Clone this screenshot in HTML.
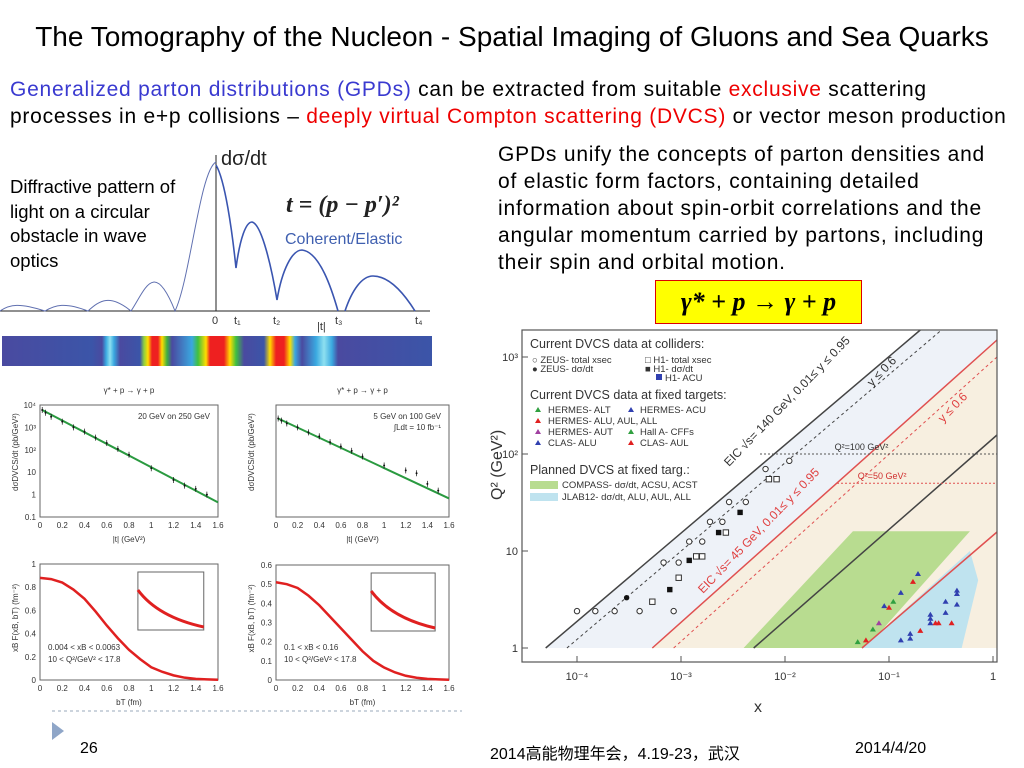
<!DOCTYPE html>
<html><head><meta charset="utf-8">
<style>
body{margin:0;width:1024px;height:768px;background:#fff;position:relative;overflow:hidden;font-family:"Liberation Sans","Noto Sans CJK SC",sans-serif}
.abs{position:absolute}
</style></head><body>
<div class="abs" style="left:0;top:21px;width:1024px;text-align:center;font-size:28px;color:#000">The Tomography of the Nucleon - Spatial Imaging of Gluons and Sea Quarks</div>
<div class="abs" style="left:10px;top:76px;font-size:21px;letter-spacing:0.75px;line-height:27px;color:#000;white-space:nowrap"><span style="color:#3a3ad0">Generalized parton distributions (GPDs)</span> can be extracted from suitable <span style="color:#e00">exclusive</span> scattering<br>processes in e+p collisions – <span style="color:#e00">deeply virtual Compton scattering (DVCS)</span> or vector meson production</div>
<div class="abs" style="left:498px;top:141px;font-size:21px;letter-spacing:0.8px;line-height:27px;color:#000;white-space:nowrap">GPDs unify the concepts of parton densities and<br>of elastic form factors, containing detailed<br>information about spin-orbit correlations and the<br>angular momentum carried by partons, including<br>their spin and orbital motion.</div>
<div class="abs" style="left:10px;top:175px;font-size:18.5px;line-height:24.5px;color:#000">Diffractive pattern of<br>light on a circular<br>obstacle in wave<br>optics</div>
<div class="abs" style="left:655px;top:280px;width:205px;height:42px;background:#ffff00;border:1px solid #d00;font-family:'Liberation Serif',serif;font-style:italic;font-weight:bold;font-size:26px;line-height:42px;text-align:center;color:#000">γ* + p → γ + p</div>
<div class="abs" style="left:2px;top:336px;width:430px;height:30px;background:linear-gradient(90deg,#4a4aa0 0px,#3b55a8 90px,#4a4aa0 100px,#3aa8e0 104px,#8ee0f0 108px,#3aa8e0 112px,#4a4aa0 118px,#3b55a8 138px,#8ed040 142px,#ffdd00 146px,#ee2020 150px,#ee2020 156px,#ffdd00 160px,#40b040 165px,#4a4aa0 170px,#3aa8e0 190px,#40c040 196px,#ffdd00 204px,#ee2020 208px,#ee2020 222px,#ffdd00 228px,#40c040 234px,#4a4aa0 242px,#3b55a8 262px,#ffdd00 268px,#ee2020 274px,#ee2020 282px,#ffdd00 288px,#3aa8e0 293px,#4a4aa0 300px,#3aa8e0 314px,#8ee0f0 322px,#3aa8e0 330px,#4a4aa0 336px,#3b55a8 430px)"></div>

<svg class="abs" style="left:0;top:0" width="1024" height="768">
<g fill="none">
<line x1="0" y1="311" x2="430" y2="311" stroke="#222" stroke-width="1"/>
<line x1="216" y1="311" x2="216" y2="155" stroke="#222"/>
<path d="M0,311 C10,304 20,303 45,311 C55,305 65,302 88,311 C100,300 110,294 131,311 C145,290 154,258 175,311 C190,280 200,170 216,162" stroke="#6070b0" stroke-width="1"/>
<path d="M216,165 C225,180 232,230 236,268 C240,238 246,222 252,222 C262,224 272,270 277,300 C282,270 292,250 302,250 C320,252 332,290 338,311 M345,311 C352,290 362,276 373,276 C390,276 405,295 415,311" stroke="#3a55b0" stroke-width="1.6"/>
<text x="221" y="165" font-size="20" fill="#222">dσ/dt</text>
<text x="286" y="212" font-size="24" font-family="Liberation Serif,serif" font-style="italic" font-weight="bold" fill="#222">t = (p − p′)²</text>
<text x="285" y="244" font-size="16" fill="#4060b0">Coherent/Elastic</text>
<text x="212" y="324" font-size="11" fill="#333">0</text>
<text x="234" y="324" font-size="11" fill="#333">t₁</text>
<text x="273" y="324" font-size="11" fill="#333">t₂</text>
<text x="317" y="330" font-size="11" fill="#333">|t|</text>
<text x="335" y="324" font-size="11" fill="#333">t₃</text>
<text x="415" y="324" font-size="11" fill="#333">t₄</text>
</g>
<g id="small" font-size="8" fill="#333"></g>
<g id="main"></g>
<line x1="52" y1="711" x2="462" y2="711" stroke="#9ab" stroke-dasharray="3,3"/>
<polygon points="52,722 52,740 64,731" fill="#8fa6c8"/>
</svg>
<div class="abs" style="left:80px;top:740px;font-size:16px;color:#000">26</div>
<div class="abs" style="left:490px;top:740px;font-size:16px;color:#000">2014高能物理年会，4.19-23，武汉</div>
<div class="abs" style="left:855px;top:740px;font-size:16px;color:#000">2014/4/20</div>

<script>
// ---- main DVCS chart data ----
const zeusTotX=[1e-4,1.5e-4,2.3e-4,4e-4,8.5e-4,6.8e-4,9.5e-4,1.2e-3,1.6e-3,1.9e-3,2.5e-3,2.9e-3,4.2e-3,6.5e-3,1.1e-2];
const zeusTotQ=[2.4,2.4,2.4,2.4,2.4,7.6,7.6,12.5,12.5,20,20,32,32,70,85];
const zeusDsX=[3e-4];
const zeusDsQ=[3.3];
const h1TotX=[5.3e-4,9.5e-4,1.4e-3,1.6e-3,2.7e-3,7e-3,8.3e-3];
const h1TotQ=[3,5.3,8.8,8.8,15.5,55,55];
const h1DsX=[7.8e-4,1.2e-3,2.3e-3,3.7e-3];
const h1DsQ=[4,8,15.5,25];
const fixedX=[0.05,0.06,0.07,0.08,0.09,0.1,0.11,0.13,0.13,0.16,0.16,0.17,0.19,0.2,0.25,0.25,0.25,0.28,0.3,0.35,0.35,0.4,0.45,0.45,0.45];
const fixedQ=[1.15,1.2,1.55,1.8,2.7,2.6,3,3.7,1.2,1.25,1.4,4.8,5.8,1.5,1.8,2,2.2,1.8,1.8,2.3,3,1.8,2.8,3.6,3.9];
const fixedKind=['g','r','g','m','b','r','g','b','b','b','b','r','b','r','b','b','b','r','r','b','b','r','b','b','b'];
const xTicks=['10⁻⁴','10⁻³','10⁻²','10⁻¹','1'];
const xTickVals=[1e-4,1e-3,1e-2,1e-1,1];
const yTickVals=[1,10,100,1000];
const yTickLabels=['1','10','10²','10³'];

const NS='http://www.w3.org/2000/svg';
function mk(tag,attrs,parent,txt){const e=document.createElementNS(NS,tag);for(const k in attrs)e.setAttribute(k,attrs[k]);if(txt!==undefined)e.textContent=txt;parent.appendChild(e);return e;}
const mg=document.getElementById('main');
const X=v=>577+104*(Math.log10(v)+4);
const Y=v=>648-97*Math.log10(v);
const PL=522,PR=997,PT=330,PB=662;
mk('polygon',{points:`${X(5e-5)},${Y(1)} ${X(0.2)},${PT} ${PR},${PT} ${PR},${Y(1)}`,fill:'#eef2f8'},mg);
mk('polygon',{points:`${X(5.3e-4)},${Y(1)} ${PR},${Y(1500)} ${PR},${Y(1)}`,fill:'#f7efe0'},mg);
mk('polygon',{points:`${X(4e-3)},${Y(1)} ${X(0.045)},${Y(16)} ${X(0.6)},${Y(16)} ${X(0.06)},${Y(1)}`,fill:'#b8dc90'},mg);
mk('polygon',{points:`${X(0.055)},${Y(1)} ${X(0.6)},${Y(10)} ${X(0.72)},${Y(5)} ${X(0.5)},${Y(1)}`,fill:'#bfe3ef'},mg);
mk('line',{x1:X(5e-5),y1:Y(1),x2:X(0.2),y2:PT,stroke:'#444','stroke-width':1.5},mg);
mk('line',{x1:X(8e-5),y1:Y(1),x2:X(0.32),y2:PT,stroke:'#444','stroke-dasharray':'3,3'},mg);
mk('line',{x1:X(5.3e-4),y1:Y(1),x2:PR,y2:340,stroke:'#e05050','stroke-width':1.5},mg);
mk('line',{x1:X(8.5e-4),y1:Y(1),x2:PR,y2:357,stroke:'#e05050','stroke-dasharray':'3,3'},mg);
mk('line',{x1:X(5e-3),y1:Y(1),x2:PR,y2:435,stroke:'#444','stroke-width':1.5},mg);
mk('line',{x1:X(0.055),y1:Y(1),x2:PR,y2:532,stroke:'#e05050','stroke-width':1.5},mg);
mk('line',{x1:760,y1:Y(100),x2:PR,y2:Y(100),stroke:'#555','stroke-dasharray':'2,2'},mg);
mk('line',{x1:837,y1:Y(50),x2:PR,y2:Y(50),stroke:'#e05050','stroke-dasharray':'2,2'},mg);
mk('text',{x:X(0.03),y:Y(100)-4,'font-size':9,fill:'#333'},mg,'Q²=100 GeV²');
mk('text',{x:X(0.05),y:Y(50)-4,'font-size':9,fill:'#d03030'},mg,'Q²=50 GeV²');
mk('text',{x:0,y:0,'font-size':12,fill:'#333',transform:'translate(729,467) rotate(-46)'},mg,'EIC √s= 140 GeV, 0.01≤ y ≤ 0.95');
mk('text',{x:0,y:0,'font-size':12,fill:'#333',transform:'translate(872,387) rotate(-46)'},mg,'y ≤ 0.6');
mk('text',{x:0,y:0,'font-size':12,fill:'#e04040',transform:'translate(703,594) rotate(-46)'},mg,'EIC √s= 45 GeV, 0.01≤ y ≤ 0.95');
mk('text',{x:0,y:0,'font-size':12,fill:'#e04040',transform:'translate(943,423) rotate(-46)'},mg,'y ≤ 0.6');
mk('rect',{x:PL,y:PT,width:PR-PL,height:PB-PT,fill:'none',stroke:'#555','stroke-width':1.2},mg);
xTickVals.forEach((v,i)=>{mk('line',{x1:X(v),y1:PB,x2:X(v),y2:PB-6,stroke:'#555'},mg);mk('text',{x:X(v),y:PB+18,'font-size':11,'text-anchor':'middle',fill:'#333'},mg,xTicks[i]);});
yTickVals.forEach((v,i)=>{mk('line',{x1:PL,y1:Y(v),x2:PL+6,y2:Y(v),stroke:'#555'},mg);mk('text',{x:PL-4,y:Y(v)+4,'font-size':11,'text-anchor':'end',fill:'#333'},mg,yTickLabels[i]);});
mk('text',{x:758,y:712,'font-size':16,'text-anchor':'middle',fill:'#333'},mg,'x');
mk('text',{x:0,y:0,'font-size':16,fill:'#333',transform:'translate(502,500) rotate(-90)'},mg,'Q² (GeV²)');
zeusTotX.forEach((v,i)=>{const c=mk('circle',{cx:X(v),cy:Y(zeusTotQ[i]),r:2.7,fill:'#fff',stroke:'#333'},mg);});
zeusDsX.forEach((v,i)=>{mk('circle',{cx:X(v),cy:Y(zeusDsQ[i]),r:2.7,fill:'#111'},mg);});
h1TotX.forEach((v,i)=>{mk('rect',{x:X(v)-2.7,y:Y(h1TotQ[i])-2.7,width:5.4,height:5.4,fill:'#fff',stroke:'#333'},mg);});
h1DsX.forEach((v,i)=>{mk('rect',{x:X(v)-2.7,y:Y(h1DsQ[i])-2.7,width:5.4,height:5.4,fill:'#111'},mg);});
const kc={g:'#30a040',r:'#e02020',m:'#a040a0',b:'#3040b0'};
fixedX.forEach((v,i)=>{const x=X(v),y=Y(fixedQ[i]);const t=mk('polygon',{points:`${x},${y-3} ${x-3},${y+2} ${x+3},${y+2}`,fill:kc[fixedKind[i]]},mg);});
const L=[['Current DVCS data at colliders:',530,348,12.5],['○ ZEUS- total xsec',532,363,9.5],['● ZEUS- dσ/dt',532,372,9.5],['□ H1- total xsec',645,363,9.5],['■ H1- dσ/dt',645,372,9.5],['H1- A_CU',665,381,9.5],
['Current DVCS data at fixed targets:',530,399,12.5],['HERMES- A_LT',548,413,9.5],['HERMES- A_LU, A_UL, A_LL',548,424,9.5],['HERMES- A_UT',548,435,9.5],['CLAS- A_LU',548,446,9.5],['HERMES- A_CU',640,413,9.5],['Hall A- CFFs',640,435,9.5],['CLAS- A_UL',640,446,9.5],
['Planned DVCS at fixed targ.:',530,474,12.5],['COMPASS- dσ/dt, A_CSU, A_CST',562,488,9.5],['JLAB12- dσ/dt, A_LU, A_UL, A_LL',562,500,9.5]];
L.forEach(a=>{const t=mk('text',{x:a[1],y:a[2],'font-size':a[3],fill:'#333'},mg,a[0].replace(/_/g,''));});
[[538,410,'#30a040'],[538,421,'#e02020'],[538,432,'#a040a0'],[538,443,'#3040b0'],[631,410,'#3040b0'],[631,432,'#30a040'],[631,443,'#e02020']].forEach(s=>mk('polygon',{points:`${s[0]},${s[1]-3} ${s[0]-3},${s[1]+2} ${s[0]+3},${s[1]+2}`,fill:s[2]},mg));
mk('rect',{x:656,y:374,width:6,height:6,fill:'#3040b0'},mg);
mk('rect',{x:530,y:481,width:28,height:8,fill:'#b8dc90'},mg);
mk('rect',{x:530,y:493,width:28,height:8,fill:'#bfe3ef'},mg);

// ---- small plots data ----
const tVals=[0.02,0.05,0.1,0.2,0.3,0.4,0.5,0.6,0.7,0.8,1.0,1.2,1.3,1.4,1.5];
const sig1=[6000,4500,3000,1800,1000,650,350,200,110,60,15,4.5,2.5,1.8,1];
const sig2=[2500,2000,1500,1000,600,400,220,140,90,50,20,12,9,3,1.5];
const bVals=[0,0.1,0.2,0.3,0.4,0.5,0.6,0.7,0.8,0.9,1.0,1.1,1.2,1.3,1.4,1.5,1.6];
const F1=[0.88,0.87,0.84,0.78,0.70,0.59,0.47,0.36,0.26,0.18,0.11,0.07,0.04,0.02,0.01,0.005,0.002];
const F2=[0.51,0.50,0.48,0.44,0.39,0.33,0.27,0.21,0.15,0.10,0.065,0.04,0.022,0.012,0.006,0.003,0.001];
const sg=document.getElementById('small');
function frame(x0,y0,x1,y1,xl,yl,title){mk('rect',{x:x0,y:y0,width:x1-x0,height:y1-y0,fill:'none',stroke:'#666'},sg);
 [0,0.2,0.4,0.6,0.8,1,1.2,1.4,1.6].forEach(v=>{const x=x0+(x1-x0)*v/1.6;mk('text',{x:x,y:y1+11,'text-anchor':'middle'},sg,String(v));});
 mk('text',{x:(x0+x1)/2,y:y1+25,'text-anchor':'middle'},sg,xl);
 mk('text',{x:0,y:0,transform:`translate(${x0-22},${(y0+y1)/2+30}) rotate(-90)`},sg,yl);
 if(title)mk('text',{x:(x0+x1)/2,y:y0-12,'text-anchor':'middle'},sg,title);}
function logPlot(x0,x1,yt,yb,vals,col,lbl){frame(x0,yt,x1,yb,'|t| (GeV²)','dσDVCS/dt (pb/GeV²)','γ* + p → γ + p');
 const Xs=v=>x0+(x1-x0)*v/1.6, Ys=v=>yt+(yb-yt)*(4-Math.log10(v))/5;
 mk('line',{x1:Xs(0.02),y1:Ys(vals[0]),x2:x1,y2:Ys(vals[vals.length-1]*0.45),stroke:col,'stroke-width':2},sg);
 tVals.forEach((t,i)=>{mk('circle',{cx:Xs(t),cy:Ys(vals[i]),r:1,fill:'#111'},sg);mk('line',{x1:Xs(t),y1:Ys(vals[i])-3,x2:Xs(t),y2:Ys(vals[i])+3,stroke:'#111','stroke-width':.7},sg);});
 lbl.forEach((s,i)=>mk('text',{x:x1-8,y:yt+14+i*11,'text-anchor':'end'},sg,s));
 return Ys;}
const Ys1=logPlot(40,218,405,517,sig1,'#2a9a40',['20 GeV on 250 GeV']);
['0.1','1','10','10²','10³','10⁴'].forEach((s,i)=>mk('text',{x:36,y:Ys1(Math.pow(10,i-1))+3,'text-anchor':'end'},sg,s));
logPlot(276,449,405,517,sig2,'#2a9a40',['5 GeV on 100 GeV','∫Ldt = 10 fb⁻¹']);
function linPlot(x0,x1,yt,yb,ymax,vals,ticks,lbl){frame(x0,yt,x1,yb,'bT (fm)','xB F(xB, bT) (fm⁻²)');
 const Xs=v=>x0+(x1-x0)*v/1.6, Ys=v=>yb-(yb-yt)*v/ymax;
 ticks.forEach(t=>mk('text',{x:x0-4,y:Ys(t)+3,'text-anchor':'end'},sg,String(t)));
 let d='';bVals.forEach((b,i)=>d+=(i?'L':'M')+Xs(b)+','+Ys(vals[i]));
 mk('path',{d:d,fill:'none',stroke:'#e02020','stroke-width':2.5},sg);
 const ix=x0+(x1-x0)*0.55,iy=yt+8;mk('rect',{x:ix,y:iy,width:(x1-x0)*0.37,height:58,fill:'#fff',stroke:'#666'},sg);
 mk('path',{d:`M${ix},${iy+18} Q${ix+20},${iy+45} ${ix+(x1-x0)*0.37},${iy+55}`,fill:'none',stroke:'#e02020','stroke-width':3},sg);
 lbl.forEach((s,i)=>mk('text',{x:x0+8,y:yb-30+i*12},sg,s));}
linPlot(40,218,564,680,1,F1,[0,0.2,0.4,0.6,0.8,1],['0.004 < xB < 0.0063','10 < Q²/GeV² < 17.8']);
linPlot(276,449,565,680,0.6,F2,[0,0.1,0.2,0.3,0.4,0.5,0.6],['0.1 < xB < 0.16','10 < Q²/GeV² < 17.8']);
</script>
</body></html>
